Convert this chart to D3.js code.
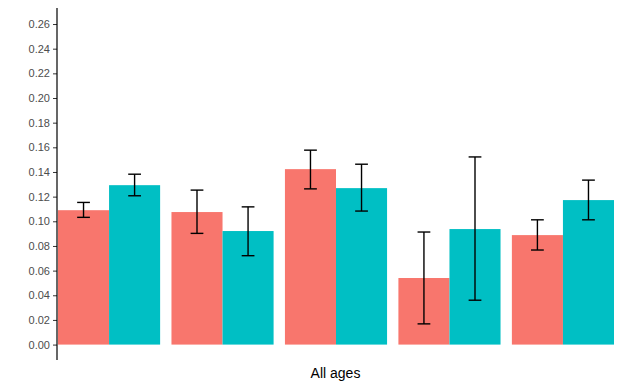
<!doctype html>
<html>
<head>
<meta charset="utf-8">
<script src="https://cdn.jsdelivr.net/npm/d3@7"></script>
<style>
  body { margin: 0; background: #fff; }
  svg text { font-family: "Liberation Sans", "DejaVu Sans", sans-serif; }
</style>
</head>
<body>
<svg id="chart" width="620" height="388"></svg>
<script>
// groups along x (no labels shown in the picture)
var groups = ["g1", "g2", "g3", "g4", "g5"];
var series = ["a", "b"];
var colors = ["#F8766D", "#00BFC4"];

// bar heights and error-bar ends, per series
var valuesA = [0.109, 0.1075, 0.1423, 0.054, 0.0888];
var lowA    = [0.1032, 0.0902, 0.1263, 0.0168, 0.0767];
var highA   = [0.1153, 0.1253, 0.1577, 0.0913, 0.1012];
var valuesB = [0.1293, 0.0921, 0.1269, 0.0937, 0.1172];
var lowB    = [0.1207, 0.0721, 0.1083, 0.036, 0.1012];
var highB   = [0.1382, 0.1117, 0.1463, 0.1522, 0.1334];

var yTicks = d3.range(0, 0.2601, 0.02);
var xTitle = "All ages";

var svg = d3.select("#chart");
var mLeft = 57, mRight = 614, mTop = 8, mBottom = 360;

var y = d3.scaleLinear().domain([-0.0125, 0.2730]).range([mBottom, mTop]);

// each group takes 0.9 of a step, first group starts right at the axis
var step = (mRight - (mLeft + 1)) / 4.9;
var x0 = d3.scaleBand().domain(groups)
  .range([mLeft + 1, mLeft + 1 + step * 5]).paddingInner(0).paddingOuter(0);
var x1 = d3.scaleBand().domain(series).range([0, step * 0.9]);

var rows = [];
groups.forEach(function(g, i) {
  rows.push({ g: g, s: "a", v: valuesA[i], lo: lowA[i], hi: highA[i], c: colors[0] });
  rows.push({ g: g, s: "b", v: valuesB[i], lo: lowB[i], hi: highB[i], c: colors[1] });
});

svg.append("g").selectAll("rect").data(rows).enter().append("rect")
  .attr("x", function(d) { return x0(d.g) + x1(d.s); })
  .attr("width", x1.bandwidth())
  .attr("y", function(d) { return y(d.v); })
  .attr("height", function(d) { return y(0) - y(d.v); })
  .attr("fill", function(d) { return d.c; });

// error bars
var cap = x1.bandwidth() * 0.125;
var eb = svg.append("g").attr("stroke", "#000").attr("stroke-width", 1.4).attr("fill", "none");
rows.forEach(function(d) {
  var cx = x0(d.g) + x1(d.s) + x1.bandwidth() / 2;
  eb.append("line").attr("x1", cx).attr("x2", cx).attr("y1", y(d.lo)).attr("y2", y(d.hi));
  eb.append("line").attr("x1", cx - cap).attr("x2", cx + cap).attr("y1", y(d.lo)).attr("y2", y(d.lo));
  eb.append("line").attr("x1", cx - cap).attr("x2", cx + cap).attr("y1", y(d.hi)).attr("y2", y(d.hi));
});

// y axis
var yAxis = d3.axisLeft(y).tickValues(yTicks).tickFormat(d3.format(".2f")).tickSize(4).tickPadding(3);
var ga = svg.append("g").attr("transform", "translate(" + mLeft + ",0)").call(yAxis);
ga.select(".domain").remove();
ga.selectAll(".tick line").attr("stroke", "#333").attr("stroke-width", 1);
ga.selectAll(".tick text").attr("fill", "#4d4d4d").style("font-size", "11px");
svg.append("line").attr("x1", mLeft).attr("x2", mLeft).attr("y1", mTop).attr("y2", mBottom)
  .attr("stroke", "#000").attr("stroke-width", 1.2);

svg.append("text").attr("x", (mLeft + mRight) / 2).attr("y", 378)
  .attr("text-anchor", "middle").style("font-size", "14px").attr("fill", "#000").text(xTitle);
</script>
</body>
</html>
